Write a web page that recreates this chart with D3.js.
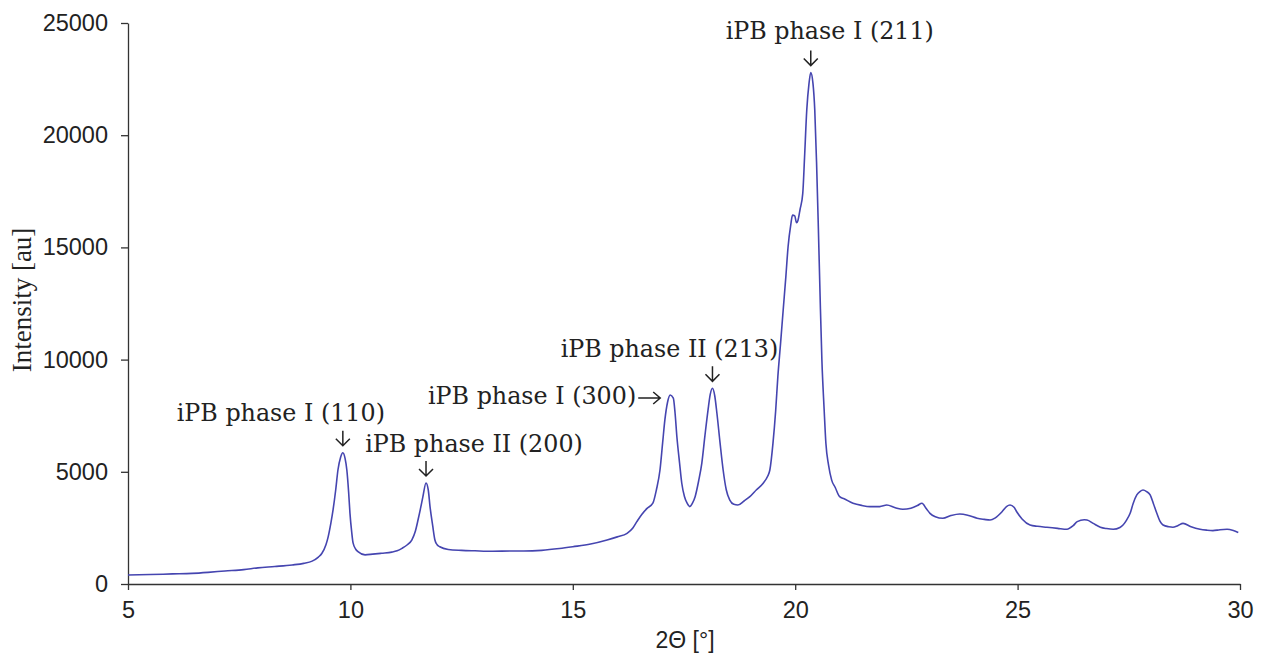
<!DOCTYPE html>
<html>
<head>
<meta charset="utf-8">
<script src="https://cdn.jsdelivr.net/npm/d3@7"></script>
<style>
  body { margin: 0; background: #fff; }
</style>
</head>
<body>
<div id="vis"></div>
<script>
// diffractogram readings (2-theta in degrees, intensity in au)
const TWO_THETA = [
  5.00, 5.5, 6.0, 6.44, 6.8, 7.18, 7.6, 7.92, 8.3, 8.69, 8.95, 9.14, 9.28, 9.36, 9.45, 9.5, 9.56, 9.61, 9.67, 9.72,
  9.78, 9.83, 9.88, 9.92, 9.96, 9.99, 10.03, 10.06, 10.12, 10.17, 10.33, 10.5, 10.7, 10.93, 11.05, 11.16, 11.28, 11.38,
  11.46, 11.52, 11.58, 11.63, 11.70, 11.75, 11.79, 11.85, 11.90, 11.95, 12.01, 12.2, 12.5, 12.8, 13.2, 13.6, 13.9, 14.3,
  14.7, 15.0, 15.4, 15.77, 16.0, 16.22, 16.35, 16.44, 16.55, 16.67, 16.8, 16.88, 16.96, 17.02, 17.07, 17.13, 17.19,
  17.26, 17.30, 17.34, 17.40, 17.45, 17.51, 17.57, 17.63, 17.69, 17.75, 17.83, 17.9, 17.97, 18.04, 18.09, 18.14, 18.19,
  18.24, 18.31, 18.38, 18.45, 18.53, 18.62, 18.71, 18.85, 18.98, 19.13, 19.28, 19.38, 19.43, 19.5, 19.56, 19.61, 19.67,
  19.73, 19.79, 19.84, 19.90, 19.94, 19.99, 20.03, 20.06, 20.11, 20.17, 20.21, 20.26, 20.31, 20.35, 20.40, 20.44, 20.48,
  20.52, 20.56, 20.6, 20.65, 20.69, 20.75, 20.82, 20.9, 21.0, 21.1, 21.3, 21.5, 21.68, 21.9, 22.06, 22.25, 22.42, 22.6,
  22.75, 22.85, 22.95, 23.03, 23.15, 23.32, 23.5, 23.7, 23.9, 24.09, 24.25, 24.38, 24.5, 24.65, 24.75, 24.83, 24.92,
  24.98, 25.1, 25.28, 25.45, 25.66, 25.9, 26.11, 26.25, 26.34, 26.5, 26.56, 26.7, 26.86, 27.0, 27.15, 27.3, 27.37,
  27.45, 27.53, 27.6, 27.68, 27.75, 27.82, 27.9, 27.98, 28.05, 28.13, 28.2, 28.27, 28.4, 28.49, 28.6, 28.72, 28.9,
  29.1, 29.25, 29.39, 29.55, 29.71, 29.85, 29.96
];
const INTENSITY = [
  400, 420, 450, 475, 520, 580, 640, 720, 780, 850, 920, 1020, 1200, 1370, 1750, 2100, 2700, 3300, 4200, 5080,
  5650, 5850, 5600, 5080, 4100, 3160, 2300, 1830, 1550, 1440, 1300, 1330, 1370, 1420, 1480, 1590, 1750, 1960,
  2350, 2850, 3400, 3890, 4500, 4200, 3450, 2600, 1960, 1750, 1660, 1540, 1500, 1480, 1460, 1470, 1470, 1500,
  1580, 1660, 1780, 1960, 2100, 2260, 2500, 2780, 3100, 3370, 3600, 4200, 5080, 6300, 7310, 8100, 8420,
  8280, 7600, 6560, 5400, 4490, 3900, 3600, 3450, 3600, 3890, 4600, 5380, 6600, 7750, 8450, 8720, 8400,
  7610, 6300, 5080, 4200, 3740, 3550, 3520, 3700, 3890, 4200, 4490, 4800, 5080, 6270, 7700, 9240, 10700,
  12210, 13700, 15030, 16000, 16440, 16400, 16100, 16190, 16700, 17410, 19000, 21120, 22300, 22790, 22300, 21120, 18800,
  15920, 12800, 9980, 7800, 6270, 5300, 4630, 4300, 3890, 3800, 3600, 3500, 3450, 3450, 3520, 3400, 3330, 3380,
  3500, 3600, 3350, 3150, 3000, 2930, 3050, 3120, 3050, 2930, 2880, 2850, 2950, 3220, 3450, 3520, 3420,
  3220, 2900, 2630, 2570, 2530, 2480, 2440, 2600, 2780, 2860, 2850, 2700, 2530, 2470, 2440, 2520, 2630,
  2850, 3150, 3600, 3970, 4120, 4190, 4120, 3970, 3600, 3150, 2800, 2630, 2550, 2530, 2600, 2700, 2550,
  2440, 2400, 2380, 2420, 2440, 2380, 2290
];

// axis ticks
const X_TICKS = [5, 10, 15, 20, 25, 30];
const Y_TICKS = [0, 5000, 10000, 15000, 20000, 25000];

// peak annotations
const PEAK_LABELS = ["iPB phase I (110)", "iPB phase II (200)", "iPB phase I (300)", "iPB phase II (213)", "iPB phase I (211)"];
const PEAK_THETA = [9.83, 11.70, 17.19, 18.14, 20.35];
const PEAK_INTENSITY = [5850, 4500, 8420, 8720, 22790];

// frame
const FRAME_WIDTH = 1267;
const FRAME_HEIGHT = 655;
const MARGINS = {left: 128, right: 27, top: 23, bottom: 71};
const VIS_WIDTH = FRAME_WIDTH - MARGINS.left - MARGINS.right;
const VIS_HEIGHT = FRAME_HEIGHT - MARGINS.top - MARGINS.bottom;

const FRAME = d3.select("#vis")
  .append("svg")
    .attr("width", FRAME_WIDTH)
    .attr("height", FRAME_HEIGHT);

const X_SCALE = d3.scaleLinear().domain([5, 30]).range([0, VIS_WIDTH]);
const Y_SCALE = d3.scaleLinear().domain([0, 25000]).range([VIS_HEIGHT, 0]);

const G = FRAME.append("g")
  .attr("transform", "translate(" + MARGINS.left + "," + MARGINS.top + ")");

// x axis
const xAxis = G.append("g")
  .attr("transform", "translate(0," + VIS_HEIGHT + ")")
  .call(d3.axisBottom(X_SCALE).tickValues(X_TICKS).tickSize(6).tickSizeOuter(0).tickPadding(11));

// y axis
const yAxis = G.append("g")
  .call(d3.axisLeft(Y_SCALE).tickValues(Y_TICKS).tickSize(7).tickSizeOuter(0).tickPadding(13)
        .tickFormat(d3.format("d")));

[xAxis, yAxis].forEach((ax) => {
  ax.select(".domain").attr("stroke", "#333").attr("stroke-width", 1.3);
  ax.selectAll(".tick line").attr("stroke", "#333").attr("stroke-width", 1.3);
  ax.selectAll(".tick text")
    .attr("fill", "#222")
    .attr("font-family", "'Liberation Sans', Arial, sans-serif")
    .attr("font-size", "23.5px");
});

// the pattern
const data = TWO_THETA.map((t, i) => ({t: t, v: INTENSITY[i]}));

G.append("path")
  .datum(data)
  .attr("fill", "none")
  .attr("stroke", "#4545b0")
  .attr("stroke-width", 1.6)
  .attr("stroke-linejoin", "round")
  .attr("d", d3.line()
    .x((d) => X_SCALE(d.t))
    .y((d) => Y_SCALE(d.v))
    .curve(d3.curveMonotoneX));

// axis titles
FRAME.append("text")
  .attr("x", 685)
  .attr("y", 648)
  .attr("text-anchor", "middle")
  .attr("font-family", "'Liberation Sans', Arial, sans-serif")
  .attr("font-size", "23px")
  .attr("fill", "#222")
  .text("2\u0398 [\u00b0]");

FRAME.append("text")
  .attr("transform", "translate(31,300) rotate(-90)")
  .attr("text-anchor", "middle")
  .attr("font-family", "'Liberation Serif', 'Times New Roman', serif")
  .attr("font-size", "27px")
  .attr("fill", "#222")
  .text("Intensity [au]");

// annotation layout: label offset from the peak, arrow direction
const LAYOUT = [
  {dx: -62, dy: -32, dir: "down"},
  {dx: 48, dy: -31, dir: "down"},
  {dx: -10, dy: 9, dir: "right"},
  {dx: -43, dy: -31, dir: "down"},
  {dx: 19, dy: -34, dir: "down"}
];

const ANN = G.append("g")
  .attr("font-family", "'DejaVu Serif', serif")
  .attr("font-size", "23.8px")
  .attr("fill", "#222");

PEAK_LABELS.forEach((label, i) => {
  const px = X_SCALE(PEAK_THETA[i]);
  const py = Y_SCALE(PEAK_INTENSITY[i]);
  const L = LAYOUT[i];
  if (L.dir === "down") {
    ANN.append("text")
      .attr("x", px + L.dx)
      .attr("y", py + L.dy)
      .attr("text-anchor", "middle")
      .text(label);
    const tipY = py - 7, topY = py - 22;
    ANN.append("path")
      .attr("d", "M" + px + "," + topY + "V" + tipY +
                 "M" + (px - 7) + "," + (tipY - 7) + "L" + px + "," + tipY + "L" + (px + 7) + "," + (tipY - 7))
      .attr("fill", "none")
      .attr("stroke", "#222")
      .attr("stroke-width", 1.5);
  } else {
    const tipX = px + L.dx;
    const ay = py + 3;
    ANN.append("text")
      .attr("x", tipX - 24)
      .attr("y", py + L.dy)
      .attr("text-anchor", "end")
      .text(label);
    ANN.append("path")
      .attr("d", "M" + (tipX - 22) + "," + ay + "H" + tipX +
                 "M" + (tipX - 7) + "," + (ay - 6) + "L" + tipX + "," + ay + "L" + (tipX - 7) + "," + (ay + 6))
      .attr("fill", "none")
      .attr("stroke", "#222")
      .attr("stroke-width", 1.5);
  }
});
</script>
</body>
</html>
